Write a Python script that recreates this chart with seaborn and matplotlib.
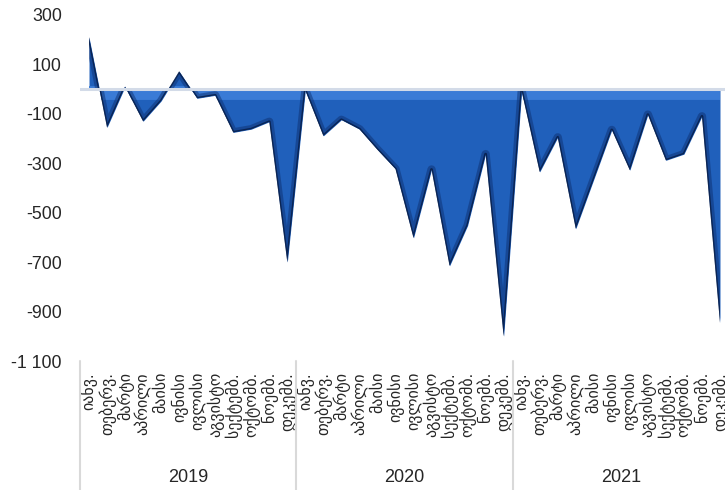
import matplotlib
matplotlib.use("Agg")
import matplotlib.pyplot as plt
import numpy as np
import pandas as pd
import seaborn as sns

# Monthly values by year
years = ["2019", "2020", "2021"]
months = ["იანვ.", "თებერვ.", "მარტი", "აპრილი", "მაისი", "ივნისი",
          "ივლისი", "აგვისტო", "სექტემბ.", "ოქტომბ.", "ნოემბ.", "დეკემბ."]
values_2019 = [210, -155, 10, -130, -48, 72, -37, -25, -175, -162, -132, -700]
values_2020 = [-5, -189, -124, -162, -245, -323, -602, -325, -715, -552, -263, -1000]
values_2021 = [-8, -335, -195, -565, -365, -165, -328, -103, -288, -263, -110, -945]
y_ticks = [300, 100, -100, -300, -500, -700, -900, -1100]

sns.set_theme(style="white")
plt.rcParams["font.family"] = ["Liberation Sans", "DejaVu Sans"]

df = pd.DataFrame({
    "idx": np.arange(36),
    "month": months * 3,
    "year": np.repeat(years, 12),
    "value": values_2019 + values_2020 + values_2021,
})

fig = plt.figure(figsize=(7.25, 4.9), dpi=100)
ax = fig.add_axes([80 / 725, 1 - 361 / 490, 649 / 725, 346 / 490])

x = df["idx"].to_numpy()
v = df["value"].to_numpy()

# main area
area = ax.fill_between(x, v, 0, color="#2060bb", linewidth=0, zorder=2)
clip_path = area.get_paths()[0]

# light bevel band along the top edge
band = ax.axhline(-14, color="#3a7bd6", lw=10, zorder=3)
band.set_clip_path(clip_path, ax.transData)

# dark bevel along the outline
sns.lineplot(data=df, x="idx", y="value", ax=ax, color="#0d3070",
             lw=6, alpha=0.5, zorder=4, legend=False)
sns.lineplot(data=df, x="idx", y="value", ax=ax, color="#08204c",
             lw=2.0, alpha=0.9, zorder=5, legend=False)
for ln in ax.get_lines()[1:]:
    ln.set_clip_path(clip_path, ax.transData)

# zero line
ax.axhline(0, color="#d3dbe8", lw=2.2, zorder=6)

ax.set_xlim(-0.5, 35.5)
ax.set_ylim(-1100, 300)
ax.set_yticks(y_ticks)
ax.set_yticklabels([f"{t:,}".replace(",", " ") for t in y_ticks], fontsize=12.8)
ax.set_xticks(x)
ax.set_xticklabels(df["month"], rotation=90, fontsize=11.5,
                   va="top", ha="center")
ax.tick_params(axis="x", length=0, pad=8)
ax.tick_params(axis="y", length=0, pad=13)
ax.set_xlabel("")
ax.set_ylabel("")
for s in ax.spines.values():
    s.set_visible(False)

# year group separators and labels below the month labels
trans = matplotlib.transforms.blended_transform_factory(ax.transData, ax.transAxes)
for b in [-0.5, 11.5, 23.5]:
    ax.plot([b, b], [0, -130 / 346], transform=trans, color="#d9d9d9",
            lw=1.5, clip_on=False, zorder=1)
for i, yr in enumerate(years):
    ax.text(i * 12 + 5.5, -116 / 346, yr, transform=trans, ha="center",
            va="center", fontsize=13)

fig.savefig("out.png", dpi=100)
